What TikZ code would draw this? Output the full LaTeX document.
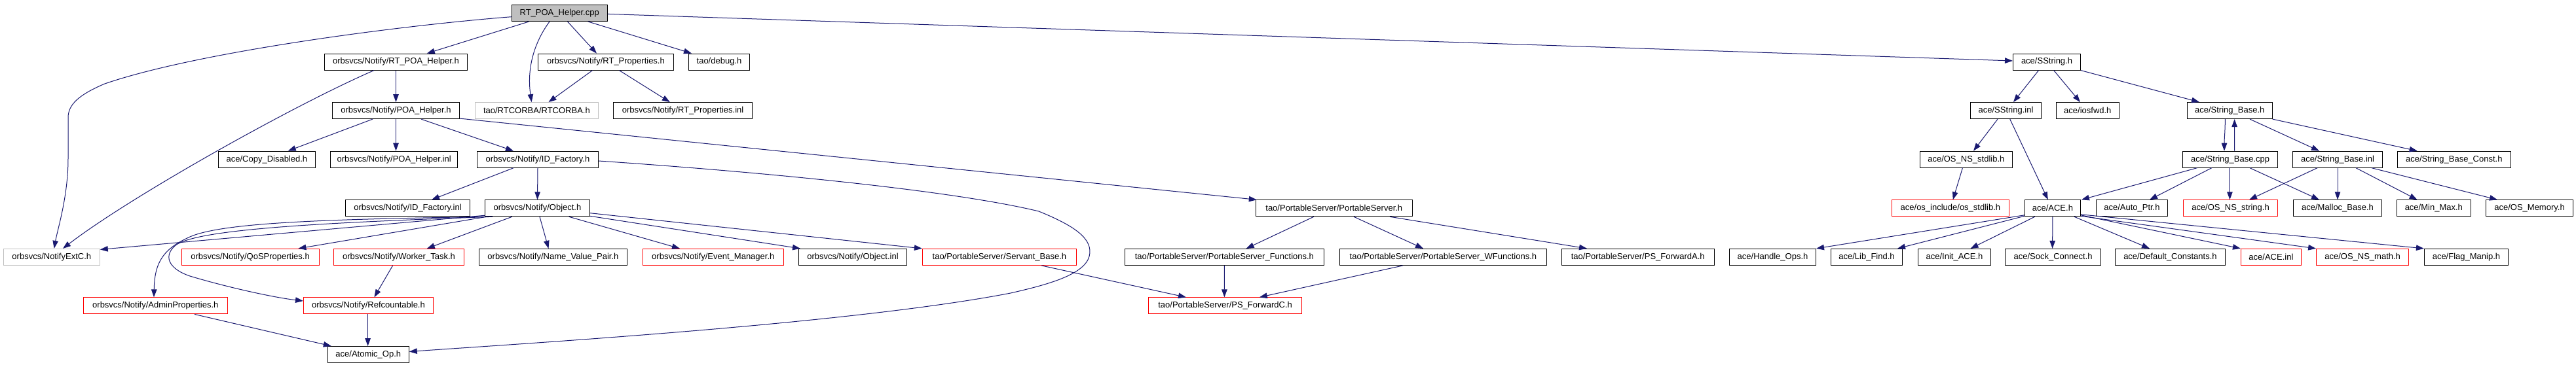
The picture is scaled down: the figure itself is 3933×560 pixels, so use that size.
\documentclass[tikz,border=0pt]{standalone}
\usepackage{fontspec}
\setmainfont{Liberation Sans}
\usetikzlibrary{calc,arrows.meta}
\definecolor{edgec}{HTML}{191970}
\definecolor{grayb}{HTML}{BFBFBF}
\begin{document}
\begin{tikzpicture}[x=1pt,y=-1pt,
  box/.style={draw=black, line width=1pt, minimum height=25pt, inner sep=0pt,
    font=\fontsize{13}{15}\selectfont, text=black, fill=white},
  redb/.style={box, draw=red},
  grayn/.style={box, draw=grayb},
  edge/.style={draw=edgec, line width=1pt, -{Triangle[length=12pt,width=8.5pt]}}]
\useasboundingbox (0,0) rectangle (3933,560);
% row 0
\node[box, fill=grayb, minimum width=146pt] (cpp) at (854.2,20) {RT\_POA\_Helper.cpp};
% row 1
\node[box, minimum width=218pt] (rtpoah) at (604.5,94.6) {orbsvcs/Notify/RT\_POA\_Helper.h};
\node[box, minimum width=207pt] (rtprop) at (925,94.6) {orbsvcs/Notify/RT\_Properties.h};
\node[box, minimum width=93pt] (debug) at (1098,94.6) {tao/debug.h};
\node[box, minimum width=103pt] (sstr) at (3125,94.6) {ace/SString.h};
% row 2
\node[box, minimum width=194pt] (poah) at (604.5,169.1) {orbsvcs/Notify/POA\_Helper.h};
\node[grayn, minimum width=188pt] (rtcorba) at (819.4,169.1) {tao/RTCORBA/RTCORBA.h};
\node[box, minimum width=212pt] (rtpinl) at (1042.6,169.1) {orbsvcs/Notify/RT\_Properties.inl};
\node[box, minimum width=108pt] (sstrinl) at (3062.5,169.1) {ace/SString.inl};
\node[box, minimum width=96pt] (iosfwd) at (3187.3,169.1) {ace/iosfwd.h};
\node[box, minimum width=130pt] (sbh) at (3404.2,169.1) {ace/String\_Base.h};
% row 3
\node[box, minimum width=148pt] (copyd) at (407.4,243.7) {ace/Copy\_Disabled.h};
\node[box, minimum width=194pt] (poainl) at (601.6,243.7) {orbsvcs/Notify/POA\_Helper.inl};
\node[box, minimum width=185pt] (idfh) at (821,243.7) {orbsvcs/Notify/ID\_Factory.h};
\node[box, minimum width=141pt] (osnsstdlib) at (3001.8,243.7) {ace/OS\_NS\_stdlib.h};
\node[box, minimum width=145pt] (sbcpp) at (3405.1,243.7) {ace/String\_Base.cpp};
\node[box, minimum width=137pt] (sbinl) at (3569,243.7) {ace/String\_Base.inl};
\node[box, minimum width=173pt] (sbconst) at (3746.8,243.7) {ace/String\_Base\_Const.h};
% row 4
\node[box, minimum width=190pt] (idfinl) at (622.5,318.3) {orbsvcs/Notify/ID\_Factory.inl};
\node[box, minimum width=160pt] (object) at (820.5,318.3) {orbsvcs/Notify/Object.h};
\node[box, minimum width=239pt] (psh) at (2036.8,318.3) {tao/PortableServer/PortableServer.h};
\node[redb, minimum width=179pt] (osstdlib) at (2977.9,318.3) {ace/os\_include/os\_stdlib.h};
\node[box, minimum width=85pt] (ace) at (3133.9,318.3) {ace/ACE.h};
\node[box, minimum width=109pt] (autoptr) at (3254.9,318.3) {ace/Auto\_Ptr.h};
\node[redb, minimum width=144pt] (osnsstring) at (3405.5,318.3) {ace/OS\_NS\_string.h};
\node[box, minimum width=135pt] (malloc) at (3569,318.3) {ace/Malloc\_Base.h};
\node[box, minimum width=113pt] (minmax) at (3715.8,318.3) {ace/Min\_Max.h};
\node[box, minimum width=133pt] (osmem) at (3862,318.3) {ace/OS\_Memory.h};
% row 5
\node[grayn, minimum width=147pt] (extc) at (78.8,392.9) {orbsvcs/NotifyExtC.h};
\node[redb, minimum width=210pt] (qos) at (382.1,392.9) {orbsvcs/Notify/QoSProperties.h};
\node[redb, minimum width=199pt] (worker) at (609,392.9) {orbsvcs/Notify/Worker\_Task.h};
\node[box, minimum width=226pt] (nvp) at (844.4,392.9) {orbsvcs/Notify/Name\_Value\_Pair.h};
\node[redb, minimum width=215pt] (evm) at (1088.8,392.9) {orbsvcs/Notify/Event\_Manager.h};
\node[box, minimum width=165pt] (objinl) at (1302,392.9) {orbsvcs/Notify/Object.inl};
\node[redb, minimum width=235pt] (servant) at (1525.9,392.9) {tao/PortableServer/Servant\_Base.h};
\node[box, minimum width=304pt] (psfunc) at (1869.4,392.9) {tao/PortableServer/PortableServer\_Functions.h};
\node[box, minimum width=316pt] (pswfunc) at (2203.4,392.9) {tao/PortableServer/PortableServer\_WFunctions.h};
\node[box, minimum width=233pt] (psfa) at (2500.7,392.9) {tao/PortableServer/PS\_ForwardA.h};
\node[box, minimum width=132pt] (handle) at (2706.5,392.9) {ace/Handle\_Ops.h};
\node[box, minimum width=109pt] (libfind) at (2850,392.9) {ace/Lib\_Find.h};
\node[box, minimum width=111pt] (initace) at (2984,392.9) {ace/Init\_ACE.h};
\node[box, minimum width=146pt] (sock) at (3134.6,392.9) {ace/Sock\_Connect.h};
\node[box, minimum width=168pt] (defc) at (3313.4,392.9) {ace/Default\_Constants.h};
\node[redb, minimum width=92pt] (aceinl) at (3467.4,392.9) {ace/ACE.inl};
\node[redb, minimum width=141pt] (osnsmath) at (3607.1,392.9) {ace/OS\_NS\_math.h};
\node[box, minimum width=128pt] (flag) at (3765.4,392.9) {ace/Flag\_Manip.h};
% row 6
\node[redb, minimum width=220pt] (admin) at (237.3,467.4) {orbsvcs/Notify/AdminProperties.h};
\node[redb, minimum width=198pt] (refc) at (562.5,467.4) {orbsvcs/Notify/Refcountable.h};
\node[redb, minimum width=234pt] (psfc) at (1870.6,467.4) {tao/PortableServer/PS\_ForwardC.h};
% row 7
\node[box, minimum width=124pt] (atomic) at (562.3,542) {ace/Atomic\_Op.h};

% edges from cpp
\draw[edge] ($(cpp.west)+(0,5.7)$) .. controls (600,40) and (300,80) .. (160,128) .. controls (120,145) and (104,160) .. (104,180) -- (104,243) .. controls (104,300) and (88,350) .. ($(extc.north)+(3.8,0)$);
\draw[edge] ($(cpp.south)+(-46.6,0)$) -- ($(rtpoah.north)+(47.3,0)$);
\draw[edge] ($(cpp.south)+(-15.2,0)$) .. controls (812,70) and (805,110) .. ($(rtcorba.north)+(-7.8,0)$);
\draw[edge] ($(cpp.south)+(12.3,0)$) -- ($(rtprop.north)+(-14,0)$);
\draw[edge] ($(cpp.south)+(43.6,0)$) -- ($(debug.north)+(-42,0)$);
\draw[edge] ($(cpp.east)+(0,1.4)$) -- ($(sstr.west)+(0,-1.6)$);
% rtpoah
\draw[edge] (rtpoah.south) -- (poah.north);
\draw[edge] ($(rtpoah.south)+(-33.5,0)$) .. controls (450,160) and (200,300) .. ($(extc.north)+(17.2,0)$);
% rtprop
\draw[edge] ($(rtprop.south)+(-20.5,0)$) -- ($(rtcorba.north)+(18.1,0)$);
\draw[edge] ($(rtprop.south)+(20.5,0)$) -- ($(rtpinl.north)+(-19.8,0)$);
% poah
\draw[edge] ($(poah.south)+(-35.5,0)$) -- ($(copyd.north)+(32.3,0)$);
\draw[edge] (poah.south) -- ($(poainl.north)+(2.9,0)$);
\draw[edge] ($(poah.south)+(38.5,0)$) -- ($(idfh.north)+(-37,0)$);
\draw[edge] ($(poah.south east)+(0,-1)$) -- ($(psh.north west)+(2,0)$);
% idfh
\draw[edge] ($(idfh.south)+(-37,0)$) -- ($(idfinl.north)+(36.5,0)$);
\draw[edge] (idfh.south) -- (object.north);
\draw[edge] ($(idfh.east)+(0,2.3)$) .. controls (1150,262) and (1450,290) .. (1586,323) .. controls (1640,345) and (1670,365) .. (1663,392) .. controls (1655,420) and (1600,435) .. (1543,448) .. controls (1300,495) and (800,525) .. ($(atomic.east)+(0,-4.5)$);
% object
\draw[edge] ($(object.south west)+(0,-2)$) -- ($(extc.north east)+(0,1.5)$);
\draw[edge] ($(object.south west)+(3,0)$) -- ($(qos.north)+(73.3,0)$);
\draw[edge] ($(object.south west)+(5,0)$) .. controls (500,335) and (340,340) .. (290,362) .. controls (250,380) and (236,400) .. ($(admin.north)+(-2.3,0)$);
\draw[edge] ($(object.south west)+(12,0)$) .. controls (500,340) and (300,350) .. (268,375) .. controls (250,390) and (255,410) .. (290,422) .. controls (350,440) and (420,455) .. ($(refc.west)+(0,-7.4)$);
\draw[edge] ($(object.south)+(-38.8,0)$) -- ($(worker.north)+(42.8,0)$);
\draw[edge] ($(object.south)+(3.5,0)$) -- ($(nvp.north)+(-6.9,0)$);
\draw[edge] ($(object.south)+(48.25,0)$) -- ($(evm.north)+(-50.8,0)$);
\draw[edge] ($(object.east)+(0,7.4)$) -- (servant.north west);
\draw[edge] ($(object.south east)+(0,-1)$) -- ($(objinl.north west)+(3,0)$);
% lower left
\draw[edge] ($(worker.south)+(-9.4,0)$) -- ($(refc.north)+(8.9,0)$);
\draw[edge] ($(admin.south)+(59.7,0)$) -- ($(atomic.north west)+(6,0)$);
\draw[edge] ($(refc.south)+(-0.9,0)$) -- ($(atomic.north)+(-0.7,0)$);
% portable server
\draw[edge] ($(servant.south)+(64.1,0)$) -- ($(psfc.north)+(-59.6,0)$);
\draw[edge] ($(psh.south)+(-31,0)$) -- ($(psfunc.north)+(33.3,0)$);
\draw[edge] ($(psh.south)+(30.2,0)$) -- ($(pswfunc.north)+(-30.4,0)$);
\draw[edge] ($(psh.south)+(85.2,0)$) -- ($(psfa.north)+(-77.7,0)$);
\draw[edge] (psfunc.south) -- ($(psfc.north)+(-1.2,0)$);
\draw[edge] ($(pswfunc.south)+(-61.4,0)$) -- ($(psfc.north)+(52.2,0)$);
% sstring
\draw[edge] ($(sstr.south)+(-12.5,0)$) -- ($(sstrinl.north)+(11.5,0)$);
\draw[edge] ($(sstr.south)+(10.7,0)$) -- ($(iosfwd.north)+(-11.3,0)$);
\draw[edge] (sstr.south east) -- ($(sbh.north)+(-46.2,0)$);
\draw[edge] ($(sstrinl.south)+(-12.5,0)$) -- ($(osnsstdlib.north)+(11.2,0)$);
\draw[edge] ($(sstrinl.south)+(6.25,0)$) -- ($(ace.north)+(-7.1,0)$);
\draw[edge] ($(osnsstdlib.south)+(-5.4,0)$) -- ($(osstdlib.north)+(3.8,0)$);
% string base
\draw[edge] ($(sbh.south)+(-6.9,0)$) .. controls +(0,20) and +(0,-20) .. ($(sbcpp.north)+(-9.1,0)$);
\draw[edge] ($(sbcpp.north)+(6.5,0)$) -- ($(sbh.south)+(7.4,0)$);
\draw[edge] ($(sbh.south)+(30.8,0)$) -- ($(sbinl.north)+(-28,0)$);
\draw[edge] (sbh.south east) -- ($(sbconst.north)+(-56.2,0)$);
\draw[edge] ($(sbcpp.south)+(-50.7,0)$) -- ($(ace.north east)+(1,0)$);
\draw[edge] ($(sbcpp.south)+(-28.4,0)$) -- ($(autoptr.north)+(27.1,0)$);
\draw[edge] ($(sbcpp.south)+(-0.7,0)$) -- ($(osnsstring.north)+(-1.1,0)$);
\draw[edge] ($(sbcpp.south)+(29.9,0)$) -- ($(malloc.north)+(-28,0)$);
\draw[edge] ($(sbinl.south)+(-31,0)$) -- ($(osnsstring.north)+(28.5,0)$);
\draw[edge] (sbinl.south) -- (malloc.north);
\draw[edge] ($(sbinl.south)+(28,0)$) -- ($(minmax.north)+(-25.2,0)$);
\draw[edge] ($(sbinl.south)+(52,0)$) -- ($(osmem.north)+(-49,0)$);
% ace
\draw[edge] ($(ace.south west)+(0,-2.5)$) -- (handle.north east);
\draw[edge] ($(ace.south west)+(0,-1)$) -- ($(libfind.north)+(47,0)$);
\draw[edge] ($(ace.south)+(-27.2,0)$) -- ($(initace.north)+(24.5,0)$);
\draw[edge] (ace.south) -- ($(sock.north)+(-1,0)$);
\draw[edge] ($(ace.south)+(33.1,0)$) -- ($(defc.north)+(-31.4,0)$);
\draw[edge] ($(ace.south east)+(0,-2.5)$) -- (aceinl.north west);
\draw[edge] ($(ace.south east)+(0,-1)$) -- (osnsmath.north west);
\draw[edge] ($(ace.south east)+(0,-3.5)$) -- (flag.north west);
\end{tikzpicture}
\end{document}
